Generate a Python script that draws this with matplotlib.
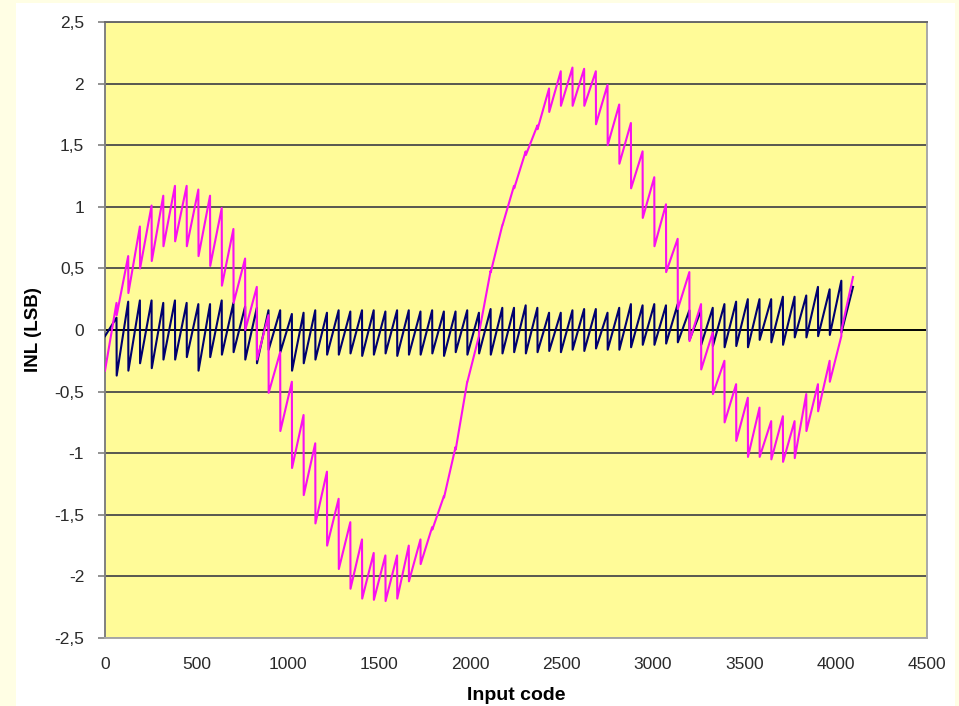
import numpy as np
import matplotlib
matplotlib.use('Agg')
import matplotlib.pyplot as plt
from matplotlib.patches import Rectangle

plt.rcParams['font.family'] = ['Liberation Sans', 'DejaVu Sans']

# INL per 64-code segment: value at the start of the segment and just before the jump
TEETH = 64
SEG = 64

navy_low = [-0.05, -0.37, -0.33, -0.27, -0.31, -0.24, -0.24, -0.22, -0.33, -0.22, -0.20, -0.18,
            -0.24, -0.27, -0.16, -0.18, -0.33, -0.27, -0.24, -0.20, -0.20, -0.19, -0.21, -0.20,
            -0.19, -0.21, -0.20, -0.20, -0.19, -0.21, -0.18, -0.20,
            -0.19, -0.20, -0.19, -0.18, -0.19, -0.18, -0.17, -0.18, -0.16, -0.17, -0.15, -0.16,
            -0.16, -0.14, -0.12, -0.12, -0.11, -0.10, -0.08, -0.12,
            -0.13, -0.14, -0.13, -0.14, -0.08, -0.10, -0.12, -0.06, -0.06, -0.05, -0.04, -0.02]
navy_high = [0.10, 0.23, 0.24, 0.24, 0.22, 0.24, 0.22, 0.21, 0.21, 0.24, 0.22, 0.19, 0.18,
             0.16, 0.16, 0.13, 0.14, 0.16, 0.14, 0.16, 0.15, 0.16, 0.16, 0.15, 0.16, 0.16,
             0.15, 0.16, 0.15, 0.15, 0.16,
             0.14, 0.17, 0.18, 0.18, 0.20, 0.18, 0.14, 0.14, 0.16, 0.17, 0.17, 0.14, 0.18,
             0.21, 0.20, 0.21, 0.20, 0.21, 0.16, 0.16, 0.18, 0.21, 0.23, 0.25, 0.25, 0.25,
             0.27, 0.27, 0.28, 0.35, 0.33, 0.40, 0.35]

mag_low = [-0.33, 0.12, 0.30, 0.50, 0.56, 0.68, 0.72, 0.68, 0.60, 0.52, 0.36, 0.22, 0.00, -0.24, -0.51, -0.82,
           -1.12, -1.34, -1.57, -1.75, -1.94, -2.10, -2.18, -2.19, -2.20, -2.18, -2.04, -1.90, -1.62, -1.36, -0.97, -0.42,
           -0.02, 0.47, 0.85, 1.15, 1.42, 1.63, 1.77, 1.82, 1.82, 1.82, 1.67, 1.50, 1.35, 1.15, 0.91, 0.68,
           0.47, 0.17, -0.09, -0.32, -0.52, -0.75, -0.90, -1.03, -1.03, -1.05, -1.07, -1.04, -0.82, -0.66, -0.42, 0.00]
mag_high = [0.22, 0.60, 0.84, 1.01, 1.09, 1.17, 1.17, 1.14, 1.09, 0.99, 0.82, 0.58, 0.35, 0.12, -0.18, -0.42,
            -0.69, -0.92, -1.15, -1.37, -1.56, -1.70, -1.81, -1.83, -1.83, -1.75, -1.70, -1.60, -1.35, -0.95, -0.42, -0.05,
            0.48, 0.85, 1.17, 1.45, 1.66, 1.96, 2.10, 2.13, 2.12, 2.10, 1.99, 1.83, 1.68, 1.45, 1.24, 1.02,
            0.74, 0.47, 0.21, -0.02, -0.25, -0.44, -0.55, -0.63, -0.74, -0.70, -0.74, -0.52, -0.44, -0.25, -0.05, 0.43]

yticks = [2.5, 2, 1.5, 1, 0.5, 0, -0.5, -1, -1.5, -2, -2.5]
ytick_labels = ['2,5', '2', '1,5', '1', '0,5', '0', '-0,5', '-1', '-1,5', '-2', '-2,5']
xticks = [0, 500, 1000, 1500, 2000, 2500, 3000, 3500, 4000, 4500]

seg_start = np.arange(TEETH) * SEG
codes = np.column_stack([seg_start, seg_start + SEG - 1]).ravel()
navy = np.column_stack([navy_low, navy_high]).ravel()
mag = np.column_stack([mag_low, mag_high]).ravel()

W, H = 959, 706
fig = plt.figure(figsize=(W / 100, H / 100), dpi=100, facecolor='white')
# pale yellow frame around the white chart area (left, top, right strips)
frame = '#FFFEE4'
for x0, y0, w, h in [(0, 0, 16, H), (0, H - 3, W, 3), (955, 0, 4, H)]:
    fig.patches.append(Rectangle((x0 / W, y0 / H), w / W, h / H,
                                 transform=fig.transFigure, facecolor=frame,
                                 edgecolor='none'))

ax = fig.add_axes([105 / W, 1 - 638 / H, (927 - 105) / W, (638 - 22) / H])
ax.set_facecolor('#FFFB98')

ax.plot(codes, navy, color='#00006e', lw=1.5, zorder=3)
ax.plot(codes, mag, color='#F810F0', lw=1.5, zorder=4)

ax.set_xlim(0, 4500)
ax.set_ylim(-2.5, 2.5)
ax.set_yticks(yticks)
ax.set_yticklabels(ytick_labels)
ax.set_xticks(xticks)
ax.set_xticklabels([str(v) for v in xticks])

ax.yaxis.grid(True, color='#4a4a4a', lw=1.3, zorder=1)
ax.set_axisbelow(True)
ax.axhline(0, color='black', lw=1.3, zorder=2)

for side, col in [('left', '#808080'), ('right', '#a8a8a8'),
                  ('bottom', '#a8a8a8'), ('top', '#6a6a6a')]:
    ax.spines[side].set_color(col)
    ax.spines[side].set_linewidth(1.4)

ax.tick_params(axis='y', length=5, width=1.2, color='#808080', pad=10,
               labelsize=12.5, labelcolor='#2a2a2a')
ax.tick_params(axis='x', length=0, pad=14, labelsize=12.5, labelcolor='#2a2a2a')

ax.set_ylabel('INL (LSB)', fontsize=13.5, fontweight='bold')
ax.yaxis.set_label_coords(-0.077, 0.5)
ax.set_xlabel('Input code', fontsize=14, fontweight='bold')
ax.xaxis.set_label_coords(0.5, -0.08)

fig.savefig('out.png', dpi=100, facecolor=fig.get_facecolor())
